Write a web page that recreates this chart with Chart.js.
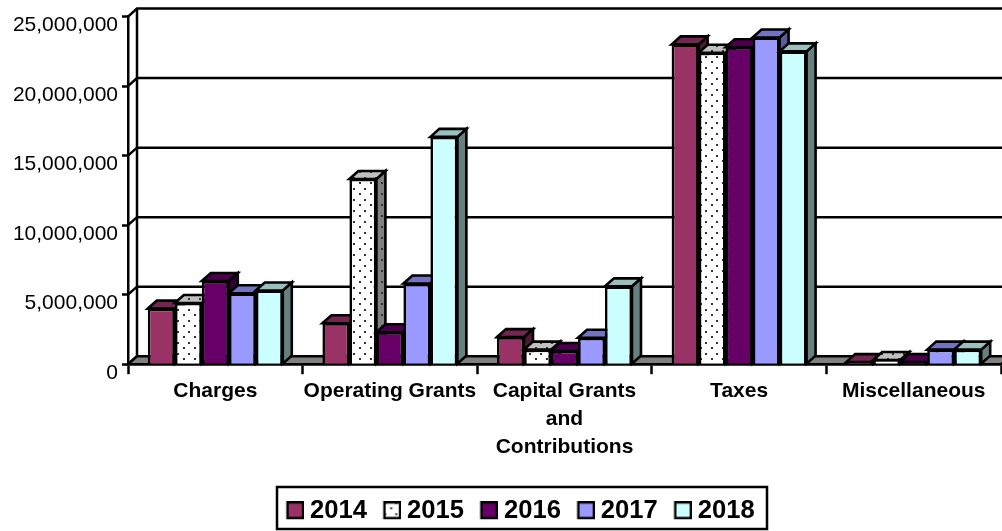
<!DOCTYPE html>
<html><head><meta charset="utf-8">
<style>html,body{margin:0;padding:0;background:#fff;overflow:hidden}canvas{display:block}</style>
<script src="https://cdn.jsdelivr.net/npm/chart.js@4"></script>
</head><body><canvas id="c" width="1002" height="531"></canvas>
<script>
const categories = ["Charges","Operating Grants",["Capital Grants","and","Contributions"],"Taxes","Miscellaneous"];
const years = ["2014","2015","2016","2017","2018"];
const v2014 = [4000000,2950000,1950000,23000000,150000];
const v2015 = [4400000,13320000,1050000,22400000,300000];
const v2016 = [5980000,2300000,950000,22800000,150000];
const v2017 = [5100000,5800000,1900000,23500000,1050000];
const v2018 = [5300000,16350000,5600000,22500000,1050000];
const seriesValues = [v2014,v2015,v2016,v2017,v2018];
const colors = ["#993366","#ffffff","#660066","#9999ff","#ccffff"];
const topColors = ["#732650","#c0c0c0","#4c004c","#7373bf","#99bfbf"];
const sideColors = ["#4d1a33","#808080","#330033","#5c5c99","#668080"];
const DX = 9, DY = -8, LINE = 2.6;

function dotTile(bg){
  const p=document.createElement('canvas');p.width=11;p.height=11;
  const g=p.getContext('2d');g.fillStyle=bg;g.fillRect(0,0,11,11);
  g.fillStyle='#333';g.fillRect(1,1,2,2);g.fillRect(7,6,2,2);
  return p;
}
const ctx0=document.getElementById('c').getContext('2d');
const dots=bg=>ctx0.createPattern(dotTile(bg),'repeat');
const fronts = colors.map((c,i)=>i===1?dots(c):c);
const tops = topColors.map((c,i)=>i===1?dots(c):c);
const sides = sideColors.map((c,i)=>i===1?dots(c):c);

function swatch(i){
  const s=document.createElement('canvas');s.width=24;s.height=20;
  const g=s.getContext('2d');
  g.translate(6.5,0);
  g.fillStyle=i===1?g.createPattern(dotTile('#fff'),'repeat'):colors[i];
  g.fillRect(1,1,16,16);g.strokeStyle='#000';g.lineWidth=2.4;g.strokeRect(1.2,1.2,15.6,15.6);
  return s;
}
const swatches = years.map((_,i)=>swatch(i));

function poly(ctx,pts,fill,w){
  ctx.beginPath();pts.forEach((p,i)=>i?ctx.lineTo(p[0],p[1]):ctx.moveTo(p[0],p[1]));ctx.closePath();
  if(fill){ctx.fillStyle=fill;ctx.fill();}
  ctx.lineWidth=w;ctx.strokeStyle='#000';ctx.lineJoin='miter';ctx.stroke();
}

const threeD = {
  id:'threeD',
  afterLayout(chart){
    const l=chart.legend;l.left+=20;l.right+=20;l.top+=3;l.bottom+=3;
  },
  beforeDatasetsDraw(chart){
    const {ctx,chartArea:a,scales:{y}}=chart;
    ctx.save();
    ctx.lineWidth=2.5;ctx.strokeStyle='#000';
    y.ticks.forEach(t=>{
      const py=y.getPixelForValue(t.value);
      ctx.beginPath();ctx.moveTo(a.left,py);ctx.lineTo(a.left+DX,py+DY);
      ctx.lineTo(a.right+DX,py+DY);ctx.stroke();
    });
    ctx.beginPath();ctx.moveTo(a.left+DX,a.top+DY);ctx.lineTo(a.left+DX,a.bottom+DY);ctx.stroke();
    poly(ctx,[[a.left,a.bottom],[a.left+DX,a.bottom+DY],[a.right+DX,a.bottom+DY],[a.right,a.bottom]],'#808080',2.5);
    years.forEach((_,i)=>{
      const meta=chart.getDatasetMeta(i);
      meta.data.forEach(b=>{
        const l=b.x-b.width/2,r=b.x+b.width/2,t=b.y,bt=b.base;
        poly(ctx,[[r,t],[r+DX,t+DY],[r+DX,bt+DY],[r,bt]],sides[i],LINE);
        poly(ctx,[[l,t],[l+DX,t+DY],[r+DX,t+DY],[r,t]],tops[i],LINE);
      });
      meta.controller.draw();
    });
    ctx.restore();
  },
  beforeDatasetDraw(){ return false; },
  afterDraw(chart){
    const {ctx}=chart;
    ctx.save();ctx.strokeStyle='#000';ctx.lineWidth=2.5;
    ctx.strokeRect(277,487,490,42);
    ctx.restore();
  }
};

new Chart(document.getElementById('c'),{
  type:'bar',
  data:{labels:categories,datasets:years.map((yr,i)=>({
    label:yr,data:seriesValues[i],backgroundColor:fronts[i],borderColor:'#000',borderWidth:LINE,
    categoryPercentage:0.773,barPercentage:1,pointStyle:swatches[i]
  }))},
  options:{
    responsive:false,animation:false,
    layout:{padding:{top:14,right:1,left:0,bottom:0}},
    plugins:{
      tooltip:{enabled:false},
      legend:{position:'bottom',
        labels:{usePointStyle:true,pointStyleWidth:11,padding:16.2,color:'#000',
          font:{family:'"Liberation Sans"',size:25.6,weight:'bold'},
          generateLabels(chart){return years.map((yr,i)=>({text:yr,pointStyle:swatches[i],datasetIndex:i,fillStyle:colors[i],strokeStyle:'#000',lineWidth:0,fontColor:'#000'}));}
        }}
    },
    scales:{
      x:{
        grid:{display:true,drawOnChartArea:false,offset:true,tickLength:10,tickWidth:2.5,tickColor:'#000'},
        border:{display:true,color:'#000',width:2.5},
        ticks:{color:'#000',autoSkip:false,maxRotation:0,minRotation:0,padding:3,
          font:{family:'"Liberation Sans"',size:21,weight:'bold',lineHeight:28/21}},
        afterFit(s){s.height=115;}
      },
      y:{
        min:0,max:25000000,
        grid:{display:true,drawOnChartArea:false,tickLength:6,tickWidth:2.5,tickColor:'#000'},
        border:{display:true,color:'#000',width:2.5},
        ticks:{stepSize:5000000,color:'#000',padding:4,labelOffset:9,
          font:{family:'"Liberation Sans"',size:21},
          callback:v=>v.toLocaleString('en-US')},
        afterFit(s){s.width=128;}
      }
    }
  },
  plugins:[threeD]
});
</script></body></html>
